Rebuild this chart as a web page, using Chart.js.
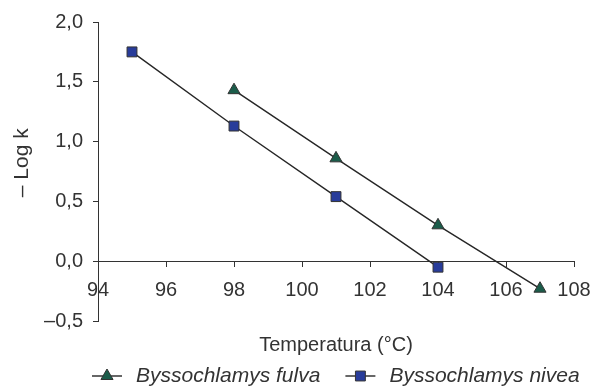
<!DOCTYPE html>
<html><head><meta charset="utf-8">
<script src="https://cdn.jsdelivr.net/npm/chart.js@4/dist/chart.umd.min.js"></script>
<style>html,body{margin:0;padding:0;background:#fff}canvas{display:block}</style>
</head><body>
<canvas id="c" width="594" height="389"></canvas>
<script>
// ---- data ----
const seriesNames = ['Byssochlamys fulva', 'Byssochlamys nivea'];
const fulvaTemps = [98, 101, 104, 107];
const fulvaLogK = [1.43, 0.86, 0.30, -0.23];
const niveaTemps = [95, 98, 101, 104];
const niveaLogK = [1.75, 1.13, 0.54, -0.05];
const xTickValues = [94, 96, 98, 100, 102, 104, 106, 108];
const yTickValues = [-0.5, 0, 0.5, 1.0, 1.5, 2.0];
const xTitle = 'Temperatura (°C)';
const yTitle = '– Log k';

// ---- style ----
const FONT = '"Liberation Sans", Arial, Helvetica, sans-serif';
const TXT = '#333333';
const AX = '#333333';
const LEG_G = 13.5;   // blank lead inside legend box
const LEG_LINE = 30;  // legend line length

function pts(xs, ys) { return xs.map((x, i) => ({x: x, y: ys[i]})); }
function fmtY(v) { return (v < 0 ? '\u2013' : '') + Math.abs(v).toFixed(1).replace('.', ','); }

const legendMarks = {
  id: 'legendMarks',
  afterLayout(chart) {
    const lg = chart.legend;
    if (lg) { lg.left = 67; lg.right = 640; }
  },
  afterDraw(chart) {
    const lg = chart.legend, ctx = chart.ctx;
    if (!lg || !lg.legendHitBoxes) return;
    lg.legendHitBoxes.forEach((hb, i) => {
      const ds = chart.data.datasets[i];
      const cx = hb.left + LEG_G + 18.5;
      const cy = hb.top + hb.height / 2;
      ctx.save();
      ctx.strokeStyle = ds.borderColor;
      ctx.lineWidth = ds.borderWidth;
      ctx.beginPath();
      ctx.moveTo(cx - LEG_LINE / 2, cy);
      ctx.lineTo(cx + LEG_LINE / 2, cy);
      ctx.stroke();
      ctx.fillStyle = ds.pointBackgroundColor;
      ctx.strokeStyle = ds.pointBorderColor;
      ctx.lineWidth = ds.pointBorderWidth;
      Chart.helpers.drawPoint(ctx, {pointStyle: ds.pointStyle, radius: ds.pointRadius, rotation: 0, borderWidth: ds.pointBorderWidth}, cx, cy);
      ctx.restore();
    });
  }
};

const axisGrid = {display: true, drawOnChartArea: false, drawTicks: true, tickLength: 5, tickColor: AX, tickWidth: 1};
const axisBorder = {display: true, color: AX, width: 1};

new Chart(document.getElementById('c'), {
  type: 'line',
  data: {
    datasets: [
      {
        label: seriesNames[0],
        data: pts(fulvaTemps, fulvaLogK),
        borderColor: '#262626', borderWidth: 1.4,
        pointStyle: 'triangle', pointRadius: 7,
        pointBackgroundColor: '#1b5c4a', pointBorderColor: '#333333', pointBorderWidth: 1,
        fill: false, tension: 0
      },
      {
        label: seriesNames[1],
        data: pts(niveaTemps, niveaLogK),
        borderColor: '#262626', borderWidth: 1.4,
        pointStyle: 'rect', pointRadius: 7,
        pointBackgroundColor: '#283c9a', pointBorderColor: '#333333', pointBorderWidth: 1,
        fill: false, tension: 0
      }
    ]
  },
  options: {
    responsive: false,
    animation: false,
    layout: {padding: {top: 22, right: 20, bottom: -7.5, left: 0}},
    scales: {
      x: {
        type: 'linear', position: {y: 0}, min: 94, max: 108,
        afterBuildTicks: s => { s.ticks = xTickValues.map(v => ({value: v})); },
        afterFit: s => { s.height = 0; },
        grid: axisGrid, border: axisBorder,
        ticks: {font: {family: FONT, size: 20, lineHeight: 2.1}, color: TXT, padding: 3, maxRotation: 0, autoSkip: false}
      },
      y: {
        type: 'linear', position: 'left', min: -0.5, max: 2.0,
        afterBuildTicks: s => { s.ticks = yTickValues.map(v => ({value: v})); },
        afterFit: s => { s.width = 98; },
        grid: axisGrid, border: axisBorder,
        ticks: {font: {family: FONT, size: 20}, color: TXT, padding: 10, callback: v => fmtY(v)},
        title: {display: true, text: '   ' + yTitle, font: {family: FONT, size: 21}, color: TXT, padding: {top: 10, bottom: 0}}
      }
    },
    plugins: {
      tooltip: {enabled: false},
      title: {
        display: true, text: xTitle, position: 'bottom', fullSize: false, weight: 500,
        font: {family: FONT, size: 20, weight: 'normal'}, color: TXT,
        padding: {top: 12, bottom: 0.5}
      },
      legend: {
        display: true, position: 'bottom', align: 'start', fullSize: true,
        labels: {
          font: {family: FONT, size: 21, style: 'italic'}, color: TXT,
          boxWidth: 37 + LEG_G, boxHeight: 1, padding: 8,
          generateLabels: chart => Chart.defaults.plugins.legend.labels.generateLabels(chart).map(l => Object.assign(l, {fillStyle: 'rgba(0,0,0,0)', strokeStyle: 'rgba(0,0,0,0)', lineWidth: 0}))
        }
      }
    }
  },
  plugins: [legendMarks]
});
</script>
</body></html>
